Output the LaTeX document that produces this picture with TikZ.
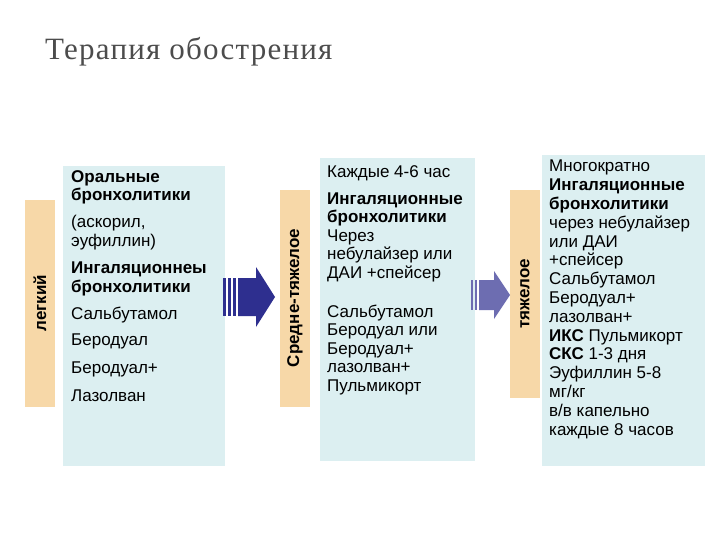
\documentclass[tikz,border=0pt]{standalone}
\usepackage{fontspec}
\setmainfont{Liberation Sans}
\newfontfamily\titlefont[LetterSpace=4]{Liberation Serif}
\begin{document}
\begin{tikzpicture}[x=1pt,y=-1pt,
  txt/.style={anchor=north west,align=left,font=\fontsize{17}{18.4}\selectfont,inner sep=0pt},
  vtxt/.style={rotate=90,font=\bfseries\fontsize{17}{18}\selectfont}]
\definecolor{labcol}{HTML}{F7D8A8}
\definecolor{boxcol}{HTML}{DCEFF1}
\definecolor{arrcol}{HTML}{2E2F8F}
\useasboundingbox[fill=white] (0,0) rectangle (720,540);
\node[anchor=west,inner sep=0pt,text=black!70,font=\titlefont\fontsize{31}{33}\selectfont] (title) at (45,52) {Терапия обострения};
% labels
\fill[labcol] (25,200) rectangle (55,407);
\node[vtxt] (l1) at (40,303) {легкий};
\fill[labcol] (280,190) rectangle (310,407);
\node[vtxt] (l2) at (295,298) {Средне-тяжелое};
\fill[labcol] (510,190) rectangle (540,398);
\node[vtxt] (l3) at (525,294) {тяжелое};
% boxes
\fill[boxcol] (63,166) rectangle (225,466);
\fill[boxcol] (320,158) rectangle (475,461);
\fill[boxcol] (542,155) rectangle (705,466);
\node[txt] (t1) at (71,170) {\textbf{Оральные}\\\textbf{бронхолитики}\\[9pt]
(аскорил,\\эуфиллин)\\[9pt]
\textbf{Ингаляционнеы}\\\textbf{бронхолитики}\\[9pt]
Сальбутамол\\[8pt]Беродуал\\[9pt]Беродуал+\\[10pt]Лазолван};
\node[txt] (t2) at (327,165) {Каждые 4-6 час\\[9pt]
\textbf{Ингаляционные}\\\textbf{бронхолитики}\\Через\\небулайзер или\\ДАИ +спейсер\\[21pt]
Сальбутамол\\Беродуал или\\Беродуал+\\лазолван+\\Пульмикорт};
\node[txt,font=\fontsize{17}{18.8}\selectfont] (t3) at (549,160) {Многократно\\\textbf{Ингаляционные}\\\textbf{бронхолитики}\\через небулайзер\\или ДАИ\\+спейсер\\Сальбутамол\\Беродуал+\\лазолван+\\\textbf{ИКС} Пульмикорт\\\textbf{СКС} 1-3 дня\\Эуфиллин 5-8\\мг/кг\\в/в капельно\\каждые 8 часов};
% arrow 1
\fill[arrcol] (223,278) rectangle (226,316);
\fill[arrcol] (228,278) rectangle (231,316);
\fill[arrcol] (233,278) rectangle (236,316);
\fill[arrcol] (238,278) -- (256,278) -- (256,267) -- (275,297) -- (256,327) -- (256,316) -- (238,316) -- cycle;
% arrow 2
\fill[arrcol!70] (471,280) rectangle (473,310);
\fill[arrcol!70] (475,280) rectangle (477,310);
\fill[arrcol!70] (479,280) -- (494,280) -- (494,271) -- (510,295) -- (494,319) -- (494,310) -- (479,310) -- cycle;
\end{tikzpicture}
\end{document}
